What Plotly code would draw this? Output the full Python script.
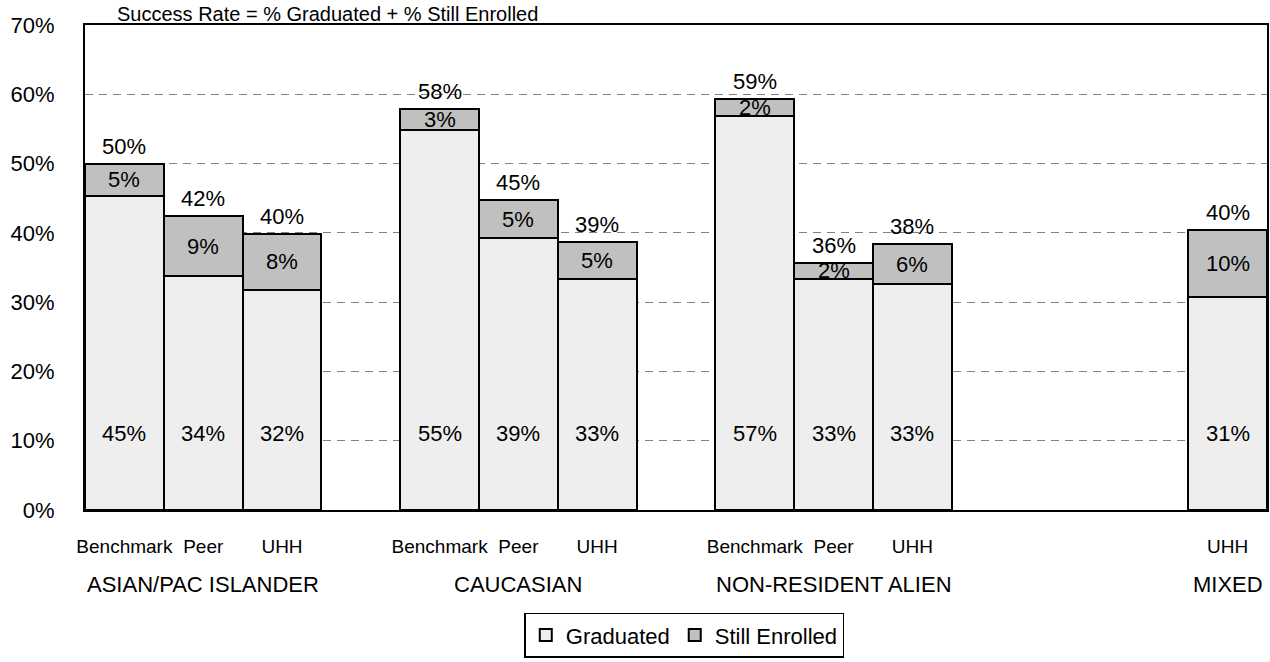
import plotly.graph_objects as go

# data
groups = ["ASIAN/PAC ISLANDER", "CAUCASIAN", "NON-RESIDENT ALIEN", "MIXED"]
bar_types = ["Benchmark", "Peer", "UHH"]
bar_group = [0, 0, 0, 1, 1, 1, 2, 2, 2, 3]
bar_type = ["Benchmark", "Peer", "UHH",
            "Benchmark", "Peer", "UHH",
            "Benchmark", "Peer", "UHH",
            "UHH"]
graduated = [45.3, 33.8, 31.8, 54.8, 39.3, 33.3, 56.9, 33.3, 32.6, 30.8]
enrolled = [4.7, 8.6, 8.0, 3.1, 5.4, 5.4, 2.4, 2.4, 5.8, 9.6]

FONT = "Liberation Sans, Arial, sans-serif"
GRAD_LABEL_Y = 11  # graduated labels sit low in the bar

# each group takes 4 slots (3 bars + gap)
xpos = [4 * g + bar_types.index(t) for g, t in zip(bar_group, bar_type)]
totals = [a + b for a, b in zip(graduated, enrolled)]

fig = go.Figure()
fig.add_trace(go.Bar(
    x=xpos, y=graduated, width=1, name="Graduated",
    marker=dict(color="#eeeeee", line=dict(color="black", width=2)),
    hoverinfo="skip"
))
fig.add_trace(go.Bar(
    x=xpos, y=enrolled, width=1, name="Still Enrolled",
    marker=dict(color="#c0c0c0", line=dict(color="black", width=2)),
    hoverinfo="skip"
))

# labels on the bars
for x, g, e, t in zip(xpos, graduated, enrolled, totals):
    fig.add_annotation(x=x, y=t, text=f"{t:.0f}%", showarrow=False,
                       yanchor="bottom", yshift=3, font=dict(size=22))
    fig.add_annotation(x=x, y=g + e / 2, text=f"{e:.0f}%", showarrow=False,
                       font=dict(size=22))
    fig.add_annotation(x=x, y=GRAD_LABEL_Y, text=f"{g:.0f}%", showarrow=False,
                       font=dict(size=22))

# group labels under the bar labels
for gi, name in enumerate(groups):
    xs = [x for x, g in zip(xpos, bar_group) if g == gi]
    gx = xs[0] if len(xs) == 1 else sum(xs) / len(xs)
    fig.add_annotation(x=gx, y=0, xref="x", yref="paper", text=name,
                       showarrow=False, yanchor="top", yshift=-60,
                       font=dict(size=22))

fig.add_annotation(x=0.025, y=1, xref="paper", yref="paper",
                   text="Success Rate = % Graduated + % Still Enrolled",
                   showarrow=False, xanchor="left", yanchor="bottom",
                   yshift=-2, font=dict(size=20))

fig.update_layout(
    width=1270, height=662,
    barmode="stack",
    plot_bgcolor="white", paper_bgcolor="white",
    font=dict(family=FONT, color="black"),
    margin=dict(l=85, r=3, t=25, b=152, autoexpand=False),
    showlegend=True,
    legend=dict(orientation="h", x=0.507, y=-0.212, xanchor="center",
                yanchor="top", bordercolor="black", borderwidth=1.5,
                font=dict(size=22), itemwidth=30, traceorder="normal",
                entrywidth=0),
    xaxis=dict(range=[-0.5, 14.5], tickvals=xpos, ticktext=bar_type,
               showgrid=False, zeroline=False, showline=True, mirror=True,
               linecolor="black", linewidth=2, ticks="", automargin=False,
               tickfont=dict(size=19), ticklabelstandoff=18),
    yaxis=dict(range=[0, 70], dtick=10, ticksuffix="%",
               showgrid=True, gridcolor="#808080", gridwidth=1,
               griddash="8px,6px", zeroline=False, showline=True,
               mirror=True, linecolor="black", linewidth=2, ticks="",
               automargin=False,
               tickfont=dict(size=22), ticklabelstandoff=24),
)

# drop the default body margin so the figure fills the window exactly
fig.write_html("out.html", config={"displayModeBar": False},
               post_script="document.body.style.margin='0px';")
